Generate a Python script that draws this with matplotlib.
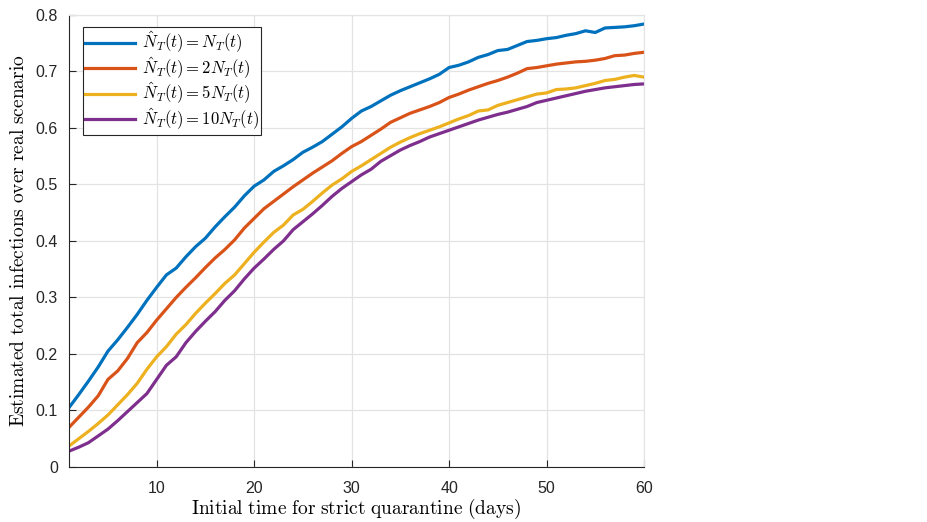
import numpy as np
import matplotlib
matplotlib.use('Agg')
import matplotlib.pyplot as plt

plt.rcParams['mathtext.fontset'] = 'cm'
plt.rcParams['font.family'] = 'Liberation Sans'

days = np.arange(1, 61)

blue = [0.105, 0.128, 0.152, 0.177, 0.205, 0.225, 0.247, 0.270, 0.295, 0.318,
        0.340, 0.352, 0.372, 0.390, 0.405, 0.425, 0.443, 0.460, 0.480, 0.497,
        0.508, 0.523, 0.533, 0.544, 0.557, 0.566, 0.576, 0.589, 0.602, 0.617,
        0.630, 0.638, 0.648, 0.658, 0.666, 0.673, 0.680, 0.687, 0.695, 0.707,
        0.711, 0.717, 0.725, 0.730, 0.737, 0.739, 0.746, 0.753, 0.755, 0.758,
        0.760, 0.764, 0.767, 0.772, 0.769, 0.777, 0.778, 0.779, 0.781, 0.784]
red = [0.070, 0.088, 0.106, 0.126, 0.155, 0.170, 0.192, 0.220, 0.238, 0.260,
       0.280, 0.300, 0.318, 0.335, 0.353, 0.370, 0.385, 0.402, 0.423, 0.440,
       0.457, 0.470, 0.483, 0.496, 0.508, 0.520, 0.531, 0.542, 0.555, 0.567,
       0.576, 0.587, 0.598, 0.610, 0.618, 0.626, 0.632, 0.638, 0.645, 0.654,
       0.660, 0.667, 0.673, 0.679, 0.684, 0.690, 0.697, 0.705, 0.707, 0.710,
       0.713, 0.715, 0.717, 0.718, 0.720, 0.723, 0.728, 0.729, 0.732, 0.734]
yellow = [0.037, 0.050, 0.063, 0.077, 0.092, 0.110, 0.128, 0.148, 0.173, 0.195,
          0.213, 0.235, 0.252, 0.272, 0.290, 0.307, 0.325, 0.340, 0.360, 0.380,
          0.398, 0.415, 0.428, 0.446, 0.456, 0.470, 0.485, 0.499, 0.510, 0.523,
          0.533, 0.544, 0.555, 0.566, 0.575, 0.583, 0.590, 0.596, 0.602, 0.609,
          0.616, 0.622, 0.630, 0.632, 0.640, 0.645, 0.650, 0.655, 0.660, 0.662,
          0.668, 0.669, 0.671, 0.675, 0.679, 0.684, 0.686, 0.690, 0.693, 0.690]
purple = [0.028, 0.035, 0.043, 0.055, 0.067, 0.082, 0.098, 0.114, 0.130, 0.155,
          0.180, 0.195, 0.220, 0.240, 0.258, 0.275, 0.295, 0.312, 0.333, 0.352,
          0.368, 0.385, 0.400, 0.420, 0.434, 0.448, 0.463, 0.479, 0.493, 0.505,
          0.517, 0.527, 0.541, 0.551, 0.561, 0.569, 0.576, 0.584, 0.590, 0.596,
          0.602, 0.608, 0.614, 0.619, 0.624, 0.628, 0.633, 0.638, 0.645, 0.649,
          0.653, 0.657, 0.661, 0.665, 0.668, 0.671, 0.673, 0.675, 0.677, 0.678]

labels = [r'$\hat{N}_T(t) = N_T(t)$', r'$\hat{N}_T(t) = 2N_T(t)$',
          r'$\hat{N}_T(t) = 5N_T(t)$', r'$\hat{N}_T(t) = 10N_T(t)$']
colors = ['#0072BD', '#D95319', '#EDB120', '#7E2F8E']

fig = plt.figure(figsize=(9.27, 5.22), dpi=100)
ax = fig.add_axes([0.0744, 0.1054, 0.6203, 0.8659])

for ys, lab, c in zip([blue, red, yellow, purple], labels, colors):
    ax.plot(days, ys, color=c, lw=2.3, label=lab)

ax.set_xlim(1, 60)
ax.set_ylim(0, 0.8)
ax.set_xticks([10, 20, 30, 40, 50, 60])
ax.set_yticks(np.arange(0, 0.81, 0.1))
ax.set_yticklabels(['0', '0.1', '0.2', '0.3', '0.4', '0.5', '0.6', '0.7', '0.8'])
ax.grid(True, color='#e3e3e3', lw=0.9)
ax.set_axisbelow(True)
ax.tick_params(direction='in', length=5, labelsize=11.5, colors='#262626')
ax.tick_params(axis='x', pad=10)
ax.tick_params(axis='y', pad=8)
for s in ['top', 'right']:
    ax.spines[s].set_color('#e3e3e3')
for s in ['left', 'bottom']:
    ax.spines[s].set_color('#262626')

ax.set_xlabel(r'$\mathrm{Initial\ time\ for\ strict\ quarantine\ (days)}$', fontsize=14, labelpad=1)
ax.set_ylabel(r'$\mathrm{Estimated\ total\ infections\ over\ real\ scenario}$', fontsize=14)
ax.yaxis.set_label_coords(-0.072, 0.5)

leg = ax.legend(loc='upper left', bbox_to_anchor=(0.024, 0.973), borderaxespad=0,
                fontsize=12, fancybox=False, edgecolor='#262626', framealpha=1,
                handlelength=3.0, borderpad=0.15, labelspacing=0.0, handletextpad=0.4)
leg.get_frame().set_linewidth(0.8)

fig.savefig('out.png', dpi=100)
